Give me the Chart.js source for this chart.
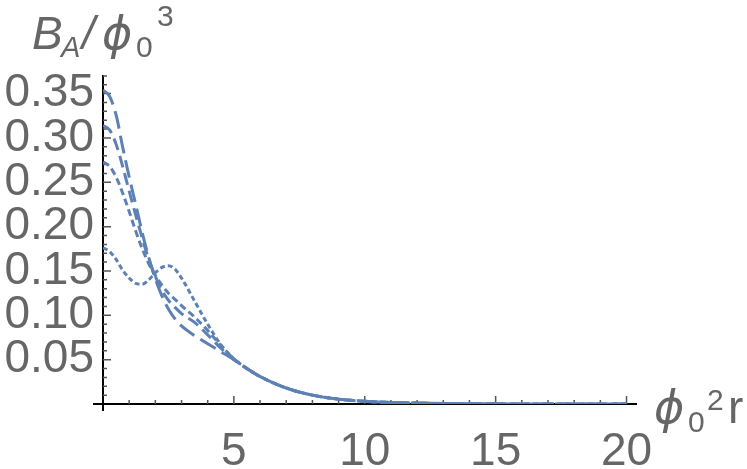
<!DOCTYPE html>
<html>
<head>
<meta charset="utf-8">
<script src="https://cdn.jsdelivr.net/npm/chart.js@4.4.1/dist/chart.umd.min.js"></script>
<style>
  html, body { margin: 0; padding: 0; background: #fff; }
  #wrap { width: 747px; height: 469px; position: relative; }
</style>
</head>
<body>
<div id="wrap"><canvas id="plot"></canvas></div>
<script>
// B_A / phi0^3 against phi0^2 r, four parameter sets

const xs = [0, 0.25, 0.5, 0.75, 1, 1.25, 1.5, 1.75, 2, 2.25, 2.5, 2.75, 3, 3.5, 4, 4.5, 5, 5.5, 6, 7, 8, 9, 10, 11, 12, 14, 16, 18, 20];

const curveA = [0.354, 0.347, 0.326, 0.290, 0.256, 0.225, 0.193, 0.165, 0.141, 0.122, 0.107, 0.096, 0.088, 0.077, 0.068, 0.059, 0.050, 0.040, 0.031, 0.018, 0.010, 0.0055, 0.003, 0.0017, 0.001, 0.0003, 0.0001, 0, 0];
const curveB = [0.314, 0.309, 0.293, 0.268, 0.240, 0.213, 0.187, 0.163, 0.144, 0.128, 0.117, 0.109, 0.102, 0.092, 0.078, 0.063, 0.050, 0.040, 0.031, 0.018, 0.010, 0.0055, 0.003, 0.0017, 0.001, 0.0003, 0.0001, 0, 0];
const curveC = [0.273, 0.268, 0.256, 0.238, 0.217, 0.195, 0.175, 0.158, 0.145, 0.134, 0.125, 0.118, 0.111, 0.098, 0.083, 0.066, 0.051, 0.040, 0.031, 0.018, 0.010, 0.0055, 0.003, 0.0017, 0.001, 0.0003, 0.0001, 0, 0];
const curveD = [0.176, 0.172, 0.163, 0.151, 0.142, 0.136, 0.135, 0.140, 0.148, 0.154, 0.156, 0.152, 0.142, 0.116, 0.090, 0.067, 0.051, 0.040, 0.031, 0.018, 0.010, 0.0055, 0.003, 0.0017, 0.001, 0.0003, 0.0001, 0, 0];

const xTickLabels = [5, 10, 15, 20];
const yTickLabels = [0.05, 0.10, 0.15, 0.20, 0.25, 0.30, 0.35];

const lineColor = '#5e81b5';
const labelColor = '#666666';
const fontFamily = '"Liberation Sans", Arial, sans-serif';
const phiFont = 'italic 46px "DejaVu Sans", sans-serif';
const PHI = '\u03d5';

function toPoints(ys) {
    return xs.map((x, i) => ({ x: x, y: ys[i] }));
}

function makeSet(ys, dash) {
    return {
        data: toPoints(ys),
        borderColor: lineColor,
        borderWidth: 3,
        borderDash: dash,
        pointRadius: 0,
        fill: false,
        cubicInterpolationMode: 'monotone'
    };
}

// axes drawn Mathematica style: crossing at origin, ticks pointing inward
const axesPlugin = {
    id: 'mmaAxes',
    beforeDatasetsDraw(chart) {
        const ctx = chart.ctx;
        const sx = chart.scales.x;
        const sy = chart.scales.y;
        const x0 = sx.getPixelForValue(0);
        const y0 = sy.getPixelForValue(0);
        ctx.save();
        ctx.strokeStyle = '#000';
        ctx.lineWidth = 2;
        ctx.beginPath();
        ctx.moveTo(x0 - 10, y0);
        ctx.lineTo(sx.right, y0);
        ctx.moveTo(x0, sy.top);
        ctx.lineTo(x0, y0 + 7);
        ctx.stroke();

        ctx.strokeStyle = '#555';
        ctx.lineWidth = 1.5;
        ctx.beginPath();
        for (let v = 1; v <= 20; v++) {
            const px = sx.getPixelForValue(v);
            const len = v % 5 === 0 ? 8 : 4;
            ctx.moveTo(px, y0);
            ctx.lineTo(px, y0 - len);
        }
        for (let k = 1; k <= 37; k++) {
            const py = sy.getPixelForValue(k / 100);
            const len = k % 5 === 0 ? 8 : 4;
            ctx.moveTo(x0, py);
            ctx.lineTo(x0 + len, py);
        }
        ctx.stroke();
        ctx.restore();
    },
    afterDraw(chart) {
        const ctx = chart.ctx;
        ctx.save();
        ctx.fillStyle = labelColor;
        ctx.textBaseline = 'alphabetic';
        ctx.textAlign = 'left';
        const big = 'italic 46px ' + fontFamily;
        const small = '30px ' + fontFamily;
        // y axis title  B_A / phi_0 ^3
        ctx.font = big; ctx.fillText('B', 32, 49);
        ctx.font = 'italic 29px ' + fontFamily; ctx.fillText('A', 61, 57);
        ctx.font = big; ctx.fillText('/', 82, 49);
        ctx.font = phiFont; ctx.fillText(PHI, 102, 49);
        ctx.font = small; ctx.fillText('0', 136, 57);
        ctx.font = small; ctx.fillText('3', 157, 26);
        // x axis title  phi_0 ^2 r
        ctx.font = phiFont; ctx.fillText(PHI, 654, 423);
        ctx.font = small; ctx.fillText('0', 688, 432);
        ctx.font = small; ctx.fillText('2', 707, 410);
        ctx.font = '46px ' + fontFamily; ctx.fillText('r', 728, 423);
        ctx.restore();
    }
};

new Chart(document.getElementById('plot'), {
    type: 'line',
    data: {
        datasets: [
            makeSet(curveA, [18, 7]),
            makeSet(curveB, [12, 6]),
            makeSet(curveC, [7, 4]),
            makeSet(curveD, [5, 3])
        ]
    },
    options: {
        responsive: true,
        maintainAspectRatio: false,
        animation: false,
        layout: { padding: { top: 75, right: 110, left: 0, bottom: 0 } },
        plugins: { legend: { display: false }, tooltip: { enabled: false } },
        scales: {
            x: {
                type: 'linear',
                min: 0,
                max: 20.4,
                grid: { display: false, drawTicks: false },
                border: { display: false },
                afterFit(scale) { scale.height = 65; },
                ticks: {
                    stepSize: 5,
                    includeBounds: false,
                    padding: 21,
                    maxRotation: 0,
                    autoSkip: false,
                    color: labelColor,
                    font: { family: fontFamily, size: 46 },
                    callback: v => xTickLabels.some(t => Math.abs(t - v) < 1e-6) ? String(v) : ''
                }
            },
            y: {
                type: 'linear',
                min: 0,
                max: 0.371,
                grid: { display: false, drawTicks: false },
                border: { display: false },
                afterFit(scale) { scale.width = 103; },
                ticks: {
                    stepSize: 0.05,
                    includeBounds: false,
                    padding: 9,
                    autoSkip: false,
                    color: labelColor,
                    font: { family: fontFamily, size: 46 },
                    callback: v => yTickLabels.some(t => Math.abs(t - v) < 1e-6) ? v.toFixed(2) : ''
                }
            }
        }
    },
    plugins: [axesPlugin]
});
</script>
</body>
</html>
